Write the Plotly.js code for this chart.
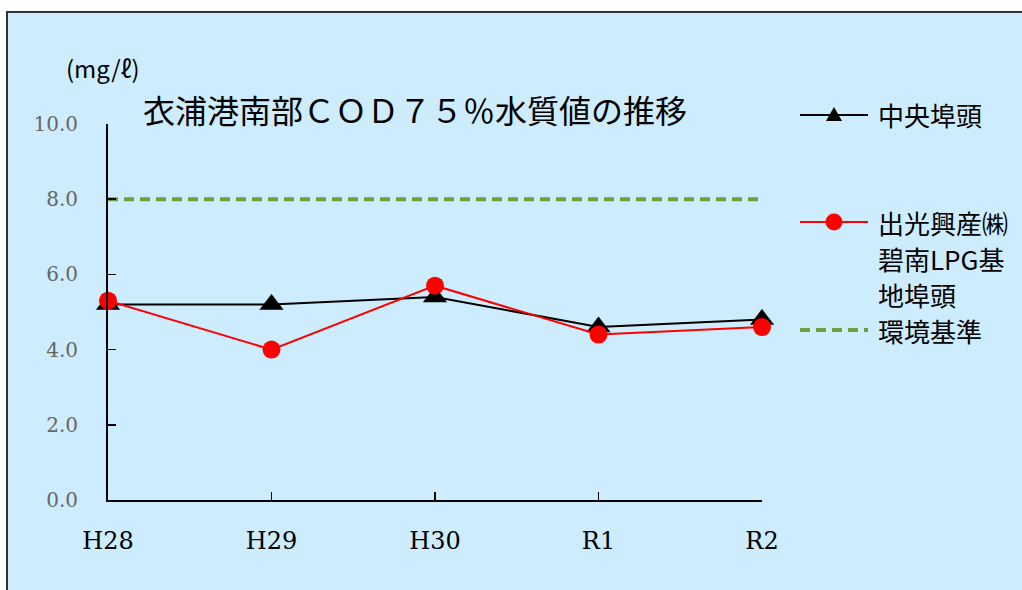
<!DOCTYPE html>
<html>
<head>
<meta charset="utf-8">
<script src="https://cdn.plot.ly/plotly-3.0.1.min.js"></script>
<style>
  html, body { margin: 0; padding: 0; background: #ffffff; }
  #chart { width: 1022px; height: 590px; }
</style>
</head>
<body>
<div id="chart"></div>
<script>
// 年度（横軸）
const years = ['H28', 'H29', 'H30', 'R1', 'R2'];
// COD 75%水質値 (mg/ℓ)
const chuoFuto = [5.2, 5.2, 5.4, 4.6, 4.8];
const idemitsuHekinan = [5.3, 4.0, 5.7, 4.4, 4.6];
// 環境基準値
const standard = [8.0, 8.0, 8.0, 8.0, 8.0];

const seriesNames = ['中央埠頭', '出光興産㈱碧南LPG基地埠頭', '環境基準'];
const legendLines = [['中央埠頭'], ['出光興産㈱', '碧南LPG基', '地埠頭'], ['環境基準']];
const yTicks = [0, 2, 4, 6, 8, 10];

// plot area in pixels: x 108..762, y 124..500
const L = 108, R = 762, T = 124, B = 500;
const px = x => (x - L) / (R - L);
const py = y => (B - y) / (B - T);

const jp = '"Noto Sans CJK JP", "Noto Sans", sans-serif';
const serif = '"DejaVu Serif", "Liberation Serif", serif';

const traces = [
  {
    x: years, y: standard, name: seriesNames[2], type: 'scatter', mode: 'lines',
    line: { color: '#6e9f3f', width: 4, dash: '10px,6px' },
    cliponaxis: false, showlegend: false, hoverinfo: 'skip'
  },
  {
    x: years, y: chuoFuto, name: seriesNames[0], type: 'scatter', mode: 'lines+markers',
    line: { color: '#000000', width: 2 },
    marker: { symbol: 'triangle-up', size: 21, color: '#000000' },
    cliponaxis: false, showlegend: false
  },
  {
    x: years, y: idemitsuHekinan, name: seriesNames[1], type: 'scatter', mode: 'lines+markers',
    line: { color: '#ff0000', width: 2 },
    marker: { symbol: 'circle', size: 18, color: '#ff0000' },
    cliponaxis: false, showlegend: false
  }
];

// legend drawn at the right side
const legX0 = 800, legX1 = 868, legMid = 834, legText = 876;
const legRowsY = [115, 222, 330];
const legLineGap = 36;

const shapes = [
  // light blue panel with dark frame
  {
    type: 'rect', xref: 'paper', yref: 'paper', layer: 'below',
    x0: px(7), x1: px(1040), y0: py(12), y1: py(620),
    fillcolor: '#cdecfe', line: { color: '#333333', width: 2 }
  },
  // legend: 中央埠頭
  { type: 'line', xref: 'paper', yref: 'paper', x0: px(legX0), x1: px(legX1), y0: py(legRowsY[0]), y1: py(legRowsY[0]),
    line: { color: '#000000', width: 2 } },
  { type: 'path', xref: 'paper', yref: 'paper', xsizemode: 'pixel', ysizemode: 'pixel',
    xanchor: px(legMid), yanchor: py(legRowsY[0]),
    path: 'M-8,-6 L8,-6 L0,8 Z', fillcolor: '#000000', line: { width: 0 } },
  // legend: 出光興産㈱碧南LPG基地埠頭
  { type: 'line', xref: 'paper', yref: 'paper', x0: px(legX0), x1: px(legX1), y0: py(legRowsY[1]), y1: py(legRowsY[1]),
    line: { color: '#ff0000', width: 2 } },
  { type: 'circle', xref: 'paper', yref: 'paper', xsizemode: 'pixel', ysizemode: 'pixel',
    xanchor: px(legMid), yanchor: py(legRowsY[1]), x0: -8.5, x1: 8.5, y0: -8.5, y1: 8.5,
    fillcolor: '#ff0000', line: { width: 0 } },
  // legend: 環境基準
  { type: 'line', xref: 'paper', yref: 'paper', x0: px(legX0), x1: px(legX1), y0: py(legRowsY[2]), y1: py(legRowsY[2]),
    line: { color: '#6e9f3f', width: 4, dash: '10px,6px' } }
];

const annotations = [
  { text: '衣浦港南部ＣＯＤ７５％水質値の推移', xref: 'paper', yref: 'paper',
    x: px(141), y: py(109), xanchor: 'left', yanchor: 'middle', showarrow: false,
    font: { family: jp, size: 32, color: '#000000' } },
  { text: '(mg/ℓ)', xref: 'paper', yref: 'paper',
    x: px(64), y: py(68), xanchor: 'left', yanchor: 'middle', showarrow: false,
    font: { family: jp, size: 24, color: '#000000' } }
];
legendLines.forEach((lines, i) => {
  lines.forEach((t, j) => {
    annotations.push({
      text: t, xref: 'paper', yref: 'paper',
      x: px(legText), y: py(legRowsY[i] + j * legLineGap), xanchor: 'left', yanchor: 'middle',
      showarrow: false, font: { family: jp, size: 26, color: '#000000' }
    });
  });
});

const layout = {
  width: 1022, height: 590,
  margin: { l: L, r: 1022 - R, t: T, b: 590 - B, pad: 0 },
  paper_bgcolor: '#ffffff',
  plot_bgcolor: 'rgba(0,0,0,0)',
  showlegend: false,
  xaxis: {
    type: 'category', range: [0, 4], fixedrange: true,
    showgrid: false, zeroline: false,
    showline: true, linecolor: '#000000', linewidth: 2,
    ticks: 'inside', ticklen: 8, tickwidth: 1.5, tickcolor: '#000000',
    tickfont: { family: serif, size: 24, color: '#000000' },
    ticklabelstandoff: 18
  },
  yaxis: {
    range: [0, 10], tickvals: yTicks, tickformat: '.1f', fixedrange: true,
    showgrid: false, zeroline: false,
    showline: true, linecolor: '#000000', linewidth: 2,
    ticks: 'inside', ticklen: 8, tickwidth: 1.5, tickcolor: '#000000',
    tickfont: { family: serif, size: 20, color: '#666666' },
    ticklabelstandoff: 24
  },
  shapes: shapes,
  annotations: annotations
};

Plotly.newPlot('chart', traces, layout, { displayModeBar: false, staticPlot: true });
</script>
</body>
</html>
